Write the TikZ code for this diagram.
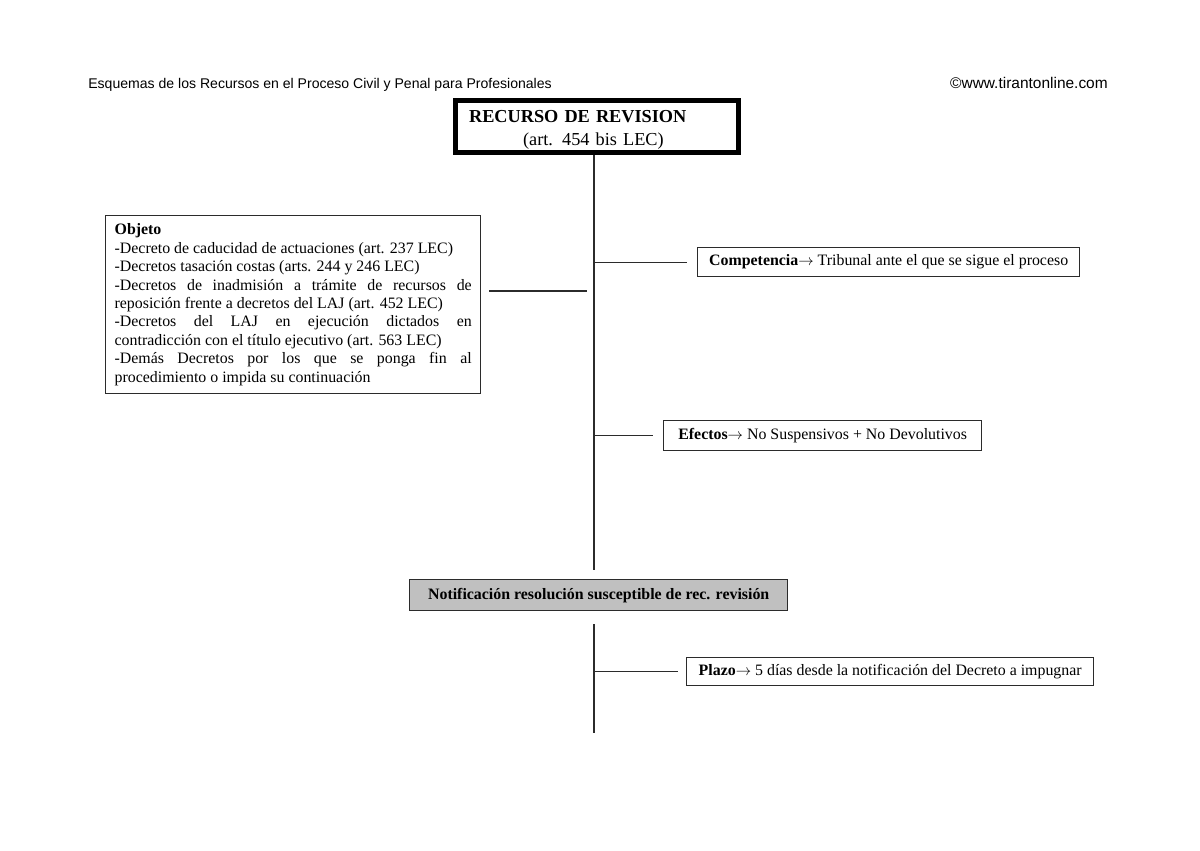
\documentclass[tikz,border=0pt]{standalone}
\usepackage{fontspec}
\setmainfont{Liberation Serif}
\newfontfamily\arialfont{Liberation Sans}
\usepackage{xcolor}
\definecolor{Gris Caja}{HTML}{C0C0C0}
\definecolor{Linea}{HTML}{2B2B2B}
\colorlet{cGris}{Gris Caja}
\colorlet{cLinea}{Linea}
\usetikzlibrary{positioning}
\newcommand{\flecha}{$\rightarrow$}
\tikzset{
	font = \fontsize{11.3}{13.1}\selectfont,
	caja/.style={
		draw=cLinea,
		line width=.9pt,
		inner xsep=0pt,
		minimum height=.725cm
	},
	titulo/.style={
		draw=black,
		line width=3.5pt,
		align=left,
		text width=6.4cm,
		inner xsep=.34cm,
		inner ysep=1pt,
		minimum height=1.3cm,
		font=\fontsize{13}{16.4}\selectfont
	},
	cabecera/.style={
		inner sep=0pt,
		font=\arialfont\fontsize{10}{12}\selectfont
	},
	rama/.style={
		draw=cLinea,
		line width=.9pt
	}
}
\begin{document}
\begin{tikzpicture}[x=.025cm, y=-.025cm]
\useasboundingbox (0,0) rectangle (1200,850);
% ---
% cabecera
% ---
\node[cabecera, anchor=base west] (cab) at (88,88) {Esquemas de los Recursos en el Proceso Civil y Penal para Profesionales};
\node[cabecera, anchor=base east, font=\arialfont\fontsize{11}{13}\selectfont] (web) at (1108,88) {©www.tirantonline.com};

% ---
% titulo y tronco
% ---
\node[titulo, anchor=north west] (titulo) at (453,98) {\rule{0pt}{13pt}\textbf{RECURSO DE REVISION}\\\hspace*{1.35cm}(art. 454 bis LEC)};
\coordinate (e1) at (594,570);
\coordinate (e2) at (594,624);
\coordinate (e3) at (594,733);
\coordinate (o1) at (587,291);

% ---
% cajas
% ---
\node[caja, anchor=north west, align=justify, text width=8.925cm, inner xsep=.225cm, minimum height=4.45cm] at (105,215) (objeto) {\textbf{Objeto}\\
-Decreto de caducidad de actuaciones (art. 237 LEC)\\
-Decretos tasación costas (arts. 244 y 246 LEC)\\
-Decretos de inadmisión a trámite de recursos de\linebreak reposición frente a decretos del LAJ (art. 452 LEC)\\
-Decretos del LAJ en ejecución dictados en\linebreak contradicción con el título ejecutivo (art. 563 LEC)\\
-Demás Decretos por los que se ponga fin al\linebreak procedimiento o impida su continuación};
\node[caja, anchor=north west, minimum width=9.55cm] at (697,247) (comp) {\textbf{Competencia}\flecha\ Tribunal ante el que se sigue el proceso};
\node[caja, anchor=north west, minimum width=7.95cm, minimum height=.75cm] at (663,420) (efectos) {\textbf{Efectos}\flecha\ No Suspensivos + No Devolutivos};
\node[caja, anchor=north west, minimum width=9.45cm, minimum height=.775cm, fill=cGris] at (409,579) (notif) {\textbf{Notificación resolución susceptible de rec. revisión}};
\node[caja, anchor=north west, minimum width=10.175cm, minimum height=.7cm] at (686,657) (plazo) {\textbf{Plazo}\flecha\ 5 días desde la notificación del Decreto a impugnar};

% ---
% ramas
% ---
\draw[rama] (titulo.south -| e1) to (e1);
\draw[rama] (e2) to (e3);
\draw[rama, shorten <=5.7pt] (objeto.east |- o1) to (o1);
\draw[rama, shorten >=7pt] (comp.west -| e1) to (comp.west);
\draw[rama, shorten >=7pt] (efectos.west -| e1) to (efectos.west);
\draw[rama, shorten >=5.7pt] (plazo.west -| e1) to (plazo.west);
\end{tikzpicture}
\end{document}
